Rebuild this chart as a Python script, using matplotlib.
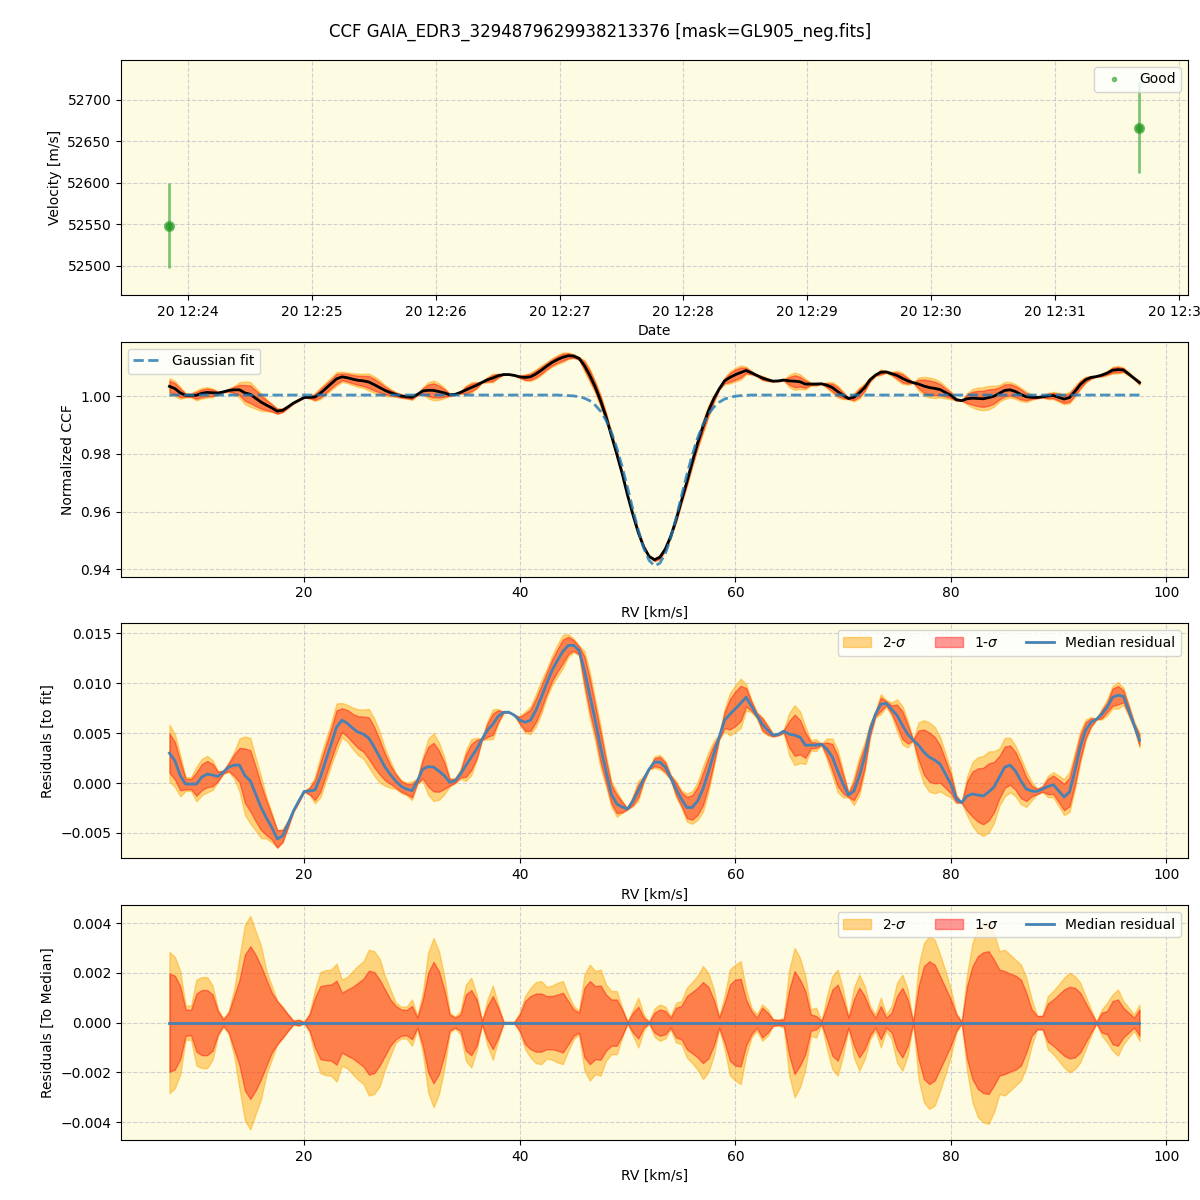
import numpy as np
import matplotlib
matplotlib.use('Agg')
import matplotlib.pyplot as plt
from matplotlib.lines import Line2D
from datetime import datetime

# ---------------- data ----------------
title = "CCF GAIA_EDR3_3294879629938213376 [mask=GL905_neg.fits]"

obs_dates = [datetime(2023, 10, 20, 12, 23, 51), datetime(2023, 10, 20, 12, 31, 41)]
velocity = [52548.5, 52666.5]
velocity_err = [51.5, 54.5]

# RV sampling grid (km/s): 7.5 ... 97.5, step 0.5
rv = np.arange(7.5, 97.5 + 0.25, 0.5)

gauss_fit = [1.0004] * 73 + [
    1.0003, 1.0002, 1.0001, 0.9998, 0.9993, 0.9984, 0.9969, 0.9948, 0.9917, 0.9875,
    0.9821, 0.9756, 0.9683, 0.9607, 0.9535, 0.9474, 0.9431, 0.9412, 0.9421, 0.9454,
    0.9508, 0.9577, 0.9653, 0.9727, 0.9796, 0.9855, 0.9901, 0.9937, 0.9962, 0.9979,
    0.9990, 0.9996, 1.0000, 1.0002, 1.0003] + [1.0004] * 73

# median residual to fit (x1e-4)
resid_median = [
    30, 22.5, 7.4, -1, -1, -1, 6, 9, 8, 6.7,
    11, 16, 18, 18, 7.4, 2.3, -11, -24.5, -35, -44.6,
    -56, -53, -41, -28, -18, -8.4, -8, -7, 6, 22.5,
    39, 56, 63, 60, 55, 51, 49, 45, 36, 26,
    16, 8.4, 2, -3.4, -6, -7.7, 2, 14, 16.4, 16,
    12, 7.4, 0.7, 2.3, 9, 17.5, 26, 34, 44, 53,
    59, 67, 71, 71, 68, 63, 61, 63, 73, 86,
    100, 113, 123, 132, 138, 138, 133, 113, 88, 63,
    36, 12, -11, -21, -24, -26, -18, -7.7, 4, 14,
    21, 21, 16, 5.7, -6, -16, -24.5, -24.5, -18, -6,
    11, 29, 46, 63, 69, 74.5, 80, 86, 77, 68,
    59, 53, 48, 49, 52, 49, 48, 46, 38, 38,
    38, 39, 34, 26, 12, -1, -12, -8, 7, 26,
    53, 69, 79, 80, 74, 68, 58, 49, 43, 38,
    31, 26, 23, 19, 9, -1, -16, -19.5, -13, -11,
    -12, -13, -9, -4, 6, 16, 18, 12, 2, -6,
    -8, -8.4, -6, -3.4, -1.7, -7.7, -14, -9, 12, 36,
    53, 61, 64, 69, 76, 86, 88, 87, 73, 58,
    43]

# 1-sigma half width (x1e-4)
sigma1 = [
    19.7, 18.9, 14.7, 5.3, 5.1, 11.7, 13.1, 13.1, 11.3, 4.7,
    1.3, 4.0, 10.7, 17.3, 27.3, 30.7, 27.3, 22.7, 17.3, 12.0,
    8.7, 6.0, 3.3, 0.7, 1.1, 0.2, 3.3, 10.0, 14.7, 15.1,
    15.3, 16.9, 12.0, 13.3, 14.4, 16.0, 17.7, 20.9, 20.3, 17.3,
    13.3, 9.3, 6.7, 5.3, 5.1, 6.7, 2.0, 9.3, 20.0, 24.4,
    20.7, 13.3, 3.3, 2.0, 3.3, 11.3, 13.1, 9.3, 0.7, 6.7,
    10.7, 6.0, 0.3, 0.3, 0.3, 3.3, 8.7, 10.7, 11.7, 11.7,
    10.7, 10.7, 11.3, 12.0, 8.7, 5.3, 4.0, 14.0, 16.7, 14.7,
    14.9, 11.3, 9.3, 9.3, 5.3, 0.3, 4.0, 6.4, 2.0, 0.3,
    4.0, 5.3, 4.7, 2.0, 6.0, 6.7, 10.7, 12.3, 14.0, 16.3,
    14.4, 9.3, 2.0, 8.0, 15.3, 17.3, 17.6, 9.3, 4.7, 2.0,
    6.0, 4.0, 1.3, 1.1, 1.3, 13.3, 20.7, 17.3, 12.7, 3.3,
    2.7, 0.7, 6.7, 13.3, 15.3, 9.3, 2.0, 9.3, 14.0, 10.7,
    5.3, 2.0, 6.7, 2.0, 4.0, 10.7, 14.0, 9.3, 0.3, 14.7,
    22.7, 24.7, 23.3, 18.7, 14.0, 9.3, 3.3, 0.3, 14.7, 22.7,
    26.7, 28.3, 28.7, 25.3, 21.3, 20.7, 19.7, 18.9, 17.3, 12.0,
    5.3, 2.7, 2.7, 7.7, 9.3, 11.3, 13.3, 14.4, 14.0, 12.0,
    8.0, 4.0, 0.3, 4.0, 4.7, 8.7, 9.3, 6.0, 4.0, 2.0,
    5.3]

# 2-sigma half width (x1e-4)
sigma2 = [
    28.4, 26.4, 20.7, 6.9, 6.9, 17.3, 18.3, 18.3, 14.9, 5.3,
    1.6, 4.7, 13.3, 26.7, 39.3, 42.9, 36.7, 30.7, 20.7, 14.7,
    8.7, 6.4, 3.3, 0.9, 1.3, 0.3, 4.0, 13.3, 20.3, 21.1,
    21.3, 23.7, 17.3, 18.4, 20.7, 22.9, 24.7, 29.3, 28.7, 25.6,
    18.7, 13.3, 8.0, 6.4, 6.4, 9.3, 2.7, 12.0, 28.0, 34.0,
    28.7, 18.7, 4.0, 2.4, 4.7, 15.3, 18.0, 11.3, 0.7, 9.3,
    14.9, 7.3, 0.3, 0.3, 0.3, 4.0, 10.7, 14.0, 16.3, 16.7,
    14.4, 14.9, 16.0, 16.7, 11.3, 6.7, 4.7, 19.3, 23.3, 20.7,
    21.3, 15.3, 12.7, 12.7, 6.0, 0.3, 5.3, 10.0, 3.3, 0.3,
    5.7, 7.3, 6.4, 2.7, 8.0, 8.7, 14.0, 16.3, 18.9, 22.7,
    20.0, 13.3, 2.4, 10.7, 21.3, 23.3, 24.7, 13.3, 6.0, 3.3,
    7.3, 5.3, 1.3, 1.1, 2.0, 21.3, 30.0, 26.0, 18.7, 5.3,
    6.0, 0.7, 10.7, 18.7, 21.3, 13.3, 2.4, 14.0, 19.3, 14.7,
    6.7, 3.3, 10.0, 3.3, 6.7, 16.0, 19.3, 13.3, 0.3, 22.7,
    32.0, 34.7, 33.3, 27.3, 20.7, 13.3, 4.0, 0.3, 19.3, 32.0,
    38.0, 40.0, 40.7, 36.0, 28.7, 29.3, 27.3, 25.3, 23.3, 18.0,
    9.3, 2.7, 2.7, 10.7, 12.7, 15.3, 18.0, 20.0, 18.7, 16.0,
    10.7, 5.3, 0.3, 5.3, 8.0, 11.3, 13.3, 8.7, 6.0, 3.3,
    7.3]

# ---------------- derived ----------------
gfit = np.array(gauss_fit)
res = np.array(resid_median) * 1e-4
s1 = np.array(sigma1) * 1e-4
s2 = np.array(sigma2) * 1e-4
ccf = gfit + res

BG = '#fdfbe2'
C2 = 'orange'
C1 = 'red'
A2 = 0.45
A1 = 0.4
MED = '#4682b4'

fig, axes = plt.subplots(4, 1, figsize=(12, 12), dpi=100)
fig.subplots_adjust(left=0.1008, right=0.99, top=0.95, bottom=0.05, hspace=0.2)
fig.suptitle(title, fontsize=12, y=0.981)

for ax in axes:
    ax.set_facecolor(BG)
    ax.grid(True, linestyle='--', color='#b8b8c8', alpha=0.65, linewidth=0.8)
    ax.set_axisbelow(True)

# panel 1: velocity
ax = axes[0]
ax.errorbar(obs_dates, velocity, yerr=velocity_err, fmt='o', color='tab:green',
            ecolor='tab:green', alpha=0.6, ms=7, elinewidth=2, capsize=0)
ax.plot(obs_dates, velocity, 'o', color='green', alpha=0.6, ms=4.5)
ax.set_ylim(52465, 52748)
ax.set_ylabel('Velocity [m/s]')
ax.set_xlabel('Date')
h = Line2D([], [], marker='o', ls='none', color='tab:green', alpha=0.6, ms=3)
ax.legend([h], ['Good'], loc='upper right')

# panel 2: CCF
ax = axes[1]
ax.fill_between(rv, ccf - s2, ccf + s2, color=C2, alpha=A2)
ax.fill_between(rv, ccf - s1, ccf + s1, color=C1, alpha=A1)
ax.plot(rv, ccf, color='black', lw=2)
ax.plot(rv, gfit, '--', color='tab:blue', alpha=0.8, lw=2, label='Gaussian fit')
ax.set_ylabel('Normalized CCF')
ax.set_xlabel('RV [km/s]')
ax.legend(loc='upper left')

# panel 3: residuals to fit
ax = axes[2]
ax.fill_between(rv, res - s2, res + s2, color=C2, alpha=A2, label=r'2-$\sigma$')
ax.fill_between(rv, res - s1, res + s1, color=C1, alpha=A1, label=r'1-$\sigma$')
ax.plot(rv, res, color=MED, lw=2, label='Median residual')
ax.set_ylabel('Residuals [to fit]')
ax.set_xlabel('RV [km/s]')
ax.legend(loc='upper right', ncol=3)

# panel 4: residuals to median
ax = axes[3]
zero = np.zeros_like(res)
ax.fill_between(rv, zero - s2, zero + s2, color=C2, alpha=A2, label=r'2-$\sigma$')
ax.fill_between(rv, zero - s1, zero + s1, color=C1, alpha=A1, label=r'1-$\sigma$')
ax.plot(rv, zero, color=MED, lw=2, label='Median residual')
ax.set_ylabel('Residuals [To Median]')
ax.set_xlabel('RV [km/s]')
ax.legend(loc='upper right', ncol=3)

fig.savefig('out.png', dpi=100)
